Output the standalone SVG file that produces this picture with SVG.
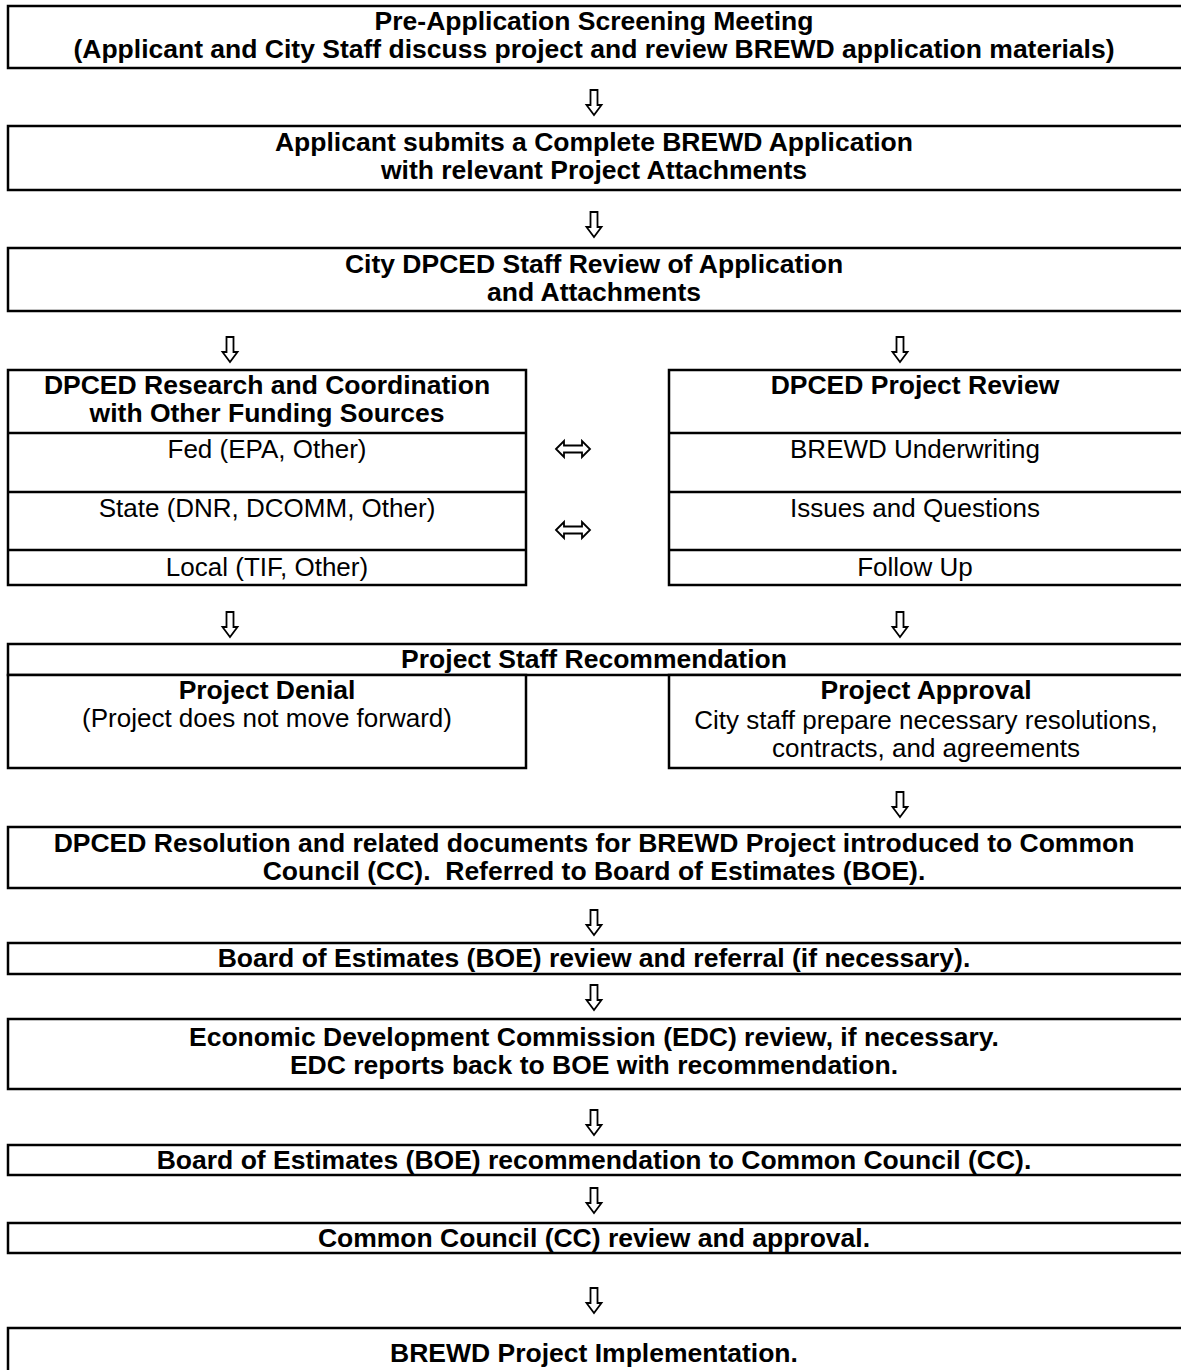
<svg xmlns="http://www.w3.org/2000/svg" width="1181" height="1370" viewBox="0 0 1181 1370">
<defs>
<style>
.bx{fill:#fff;stroke:#000;stroke-width:2.5}
.ln{stroke:#000;stroke-width:2.5}
.b{font-family:"Liberation Sans",Arial,sans-serif;font-weight:bold;font-size:26.5px;text-anchor:middle;fill:#000}
.r{font-family:"Liberation Sans",Arial,sans-serif;font-size:26px;text-anchor:middle;fill:#000}
.ar{fill:#fff;stroke:#000;stroke-width:1.8;stroke-linejoin:miter}
</style>
<path id="dn" class="ar" d="M-3.5,0 H3.5 V15 H7.5 L0,25 L-7.5,15 H-3.5 Z"/>
<path id="lr" class="ar" d="M-17,0 L-9,-8 V-3.5 H9 V-8 L17,0 L9,8 V3.5 H-9 V8 Z"/>
</defs>
<rect width="1181" height="1370" fill="#fff"/>

<g id="n1"><rect class="bx" x="8" y="6" width="1200" height="62"/>
<text class="b" x="594" y="30">Pre-Application Screening Meeting</text>
<text class="b" x="594" y="58">(Applicant and City Staff discuss project and review BREWD application materials)</text></g>

<g id="n2"><rect class="bx" x="8" y="126" width="1200" height="64"/>
<text class="b" x="594" y="151">Applicant submits a Complete BREWD Application</text>
<text class="b" x="594" y="179">with relevant Project Attachments</text></g>

<g id="n3"><rect class="bx" x="8" y="248" width="1200" height="63"/>
<text class="b" x="594" y="273">City DPCED Staff Review of Application</text>
<text class="b" x="594" y="301">and Attachments</text></g>

<g id="n4"><rect class="bx" x="8" y="370" width="518" height="215"/>
<line class="ln" x1="8" y1="433" x2="526" y2="433"/>
<line class="ln" x1="8" y1="492" x2="526" y2="492"/>
<line class="ln" x1="8" y1="550" x2="526" y2="550"/>
<text class="b" x="267" y="394">DPCED Research and Coordination</text>
<text class="b" x="267" y="422">with Other Funding Sources</text>
<text class="r" x="267" y="458">Fed (EPA, Other)</text>
<text class="r" x="267" y="517">State (DNR, DCOMM, Other)</text>
<text class="r" x="267" y="576">Local (TIF, Other)</text></g>

<g id="n5"><rect class="bx" x="669" y="370" width="600" height="215"/>
<line class="ln" x1="669" y1="433" x2="1181" y2="433"/>
<line class="ln" x1="669" y1="492" x2="1181" y2="492"/>
<line class="ln" x1="669" y1="550" x2="1181" y2="550"/>
<text class="b" x="915" y="394">DPCED Project Review</text>
<text class="r" x="915" y="458">BREWD Underwriting</text>
<text class="r" x="915" y="517">Issues and Questions</text>
<text class="r" x="915" y="576">Follow Up</text></g>

<g id="n6"><rect class="bx" x="8" y="644" width="1200" height="31"/>
<text class="b" x="594" y="668">Project Staff Recommendation</text></g>

<g id="n7"><rect class="bx" x="8" y="675" width="518" height="93"/>
<text class="b" x="267" y="699">Project Denial</text>
<text class="r" x="267" y="727">(Project does not move forward)</text></g>

<g id="n8"><rect class="bx" x="669" y="675" width="600" height="93"/>
<text class="b" x="926" y="699">Project Approval</text>
<text class="r" x="926" y="729">City staff prepare necessary resolutions,</text>
<text class="r" x="926" y="757">contracts, and agreements</text></g>

<g id="n9"><rect class="bx" x="8" y="827" width="1200" height="61"/>
<text class="b" x="594" y="852">DPCED Resolution and related documents for BREWD Project introduced to Common</text>
<text class="b" x="594" y="880" xml:space="preserve">Council (CC).  Referred to Board of Estimates (BOE).</text></g>

<g id="n10"><rect class="bx" x="8" y="943" width="1200" height="31"/>
<text class="b" x="594" y="967">Board of Estimates (BOE) review and referral (if necessary).</text></g>

<g id="n11"><rect class="bx" x="8" y="1019" width="1200" height="70"/>
<text class="b" x="594" y="1046">Economic Development Commission (EDC) review, if necessary.</text>
<text class="b" x="594" y="1074">EDC reports back to BOE with recommendation.</text></g>

<g id="n12"><rect class="bx" x="8" y="1145" width="1200" height="30"/>
<text class="b" x="594" y="1169">Board of Estimates (BOE) recommendation to Common Council (CC).</text></g>

<g id="n13"><rect class="bx" x="8" y="1223" width="1200" height="30"/>
<text class="b" x="594" y="1247">Common Council (CC) review and approval.</text></g>

<g id="n14"><rect class="bx" x="8" y="1328" width="1200" height="60"/>
<text class="b" x="594" y="1362">BREWD Project Implementation.</text></g>

<g id="connectors">
<use href="#dn" x="594" y="90"/>
<use href="#dn" x="594" y="212"/>
<use href="#dn" x="230" y="337"/>
<use href="#dn" x="900" y="337"/>
<use href="#lr" x="573" y="449"/>
<use href="#lr" x="573" y="530"/>
<use href="#dn" x="230" y="612"/>
<use href="#dn" x="900" y="612"/>
<use href="#dn" x="900" y="792"/>
<use href="#dn" x="594" y="910"/>
<use href="#dn" x="594" y="985"/>
<use href="#dn" x="594" y="1110"/>
<use href="#dn" x="594" y="1188"/>
<use href="#dn" x="594" y="1288"/>
</g>
</svg>
